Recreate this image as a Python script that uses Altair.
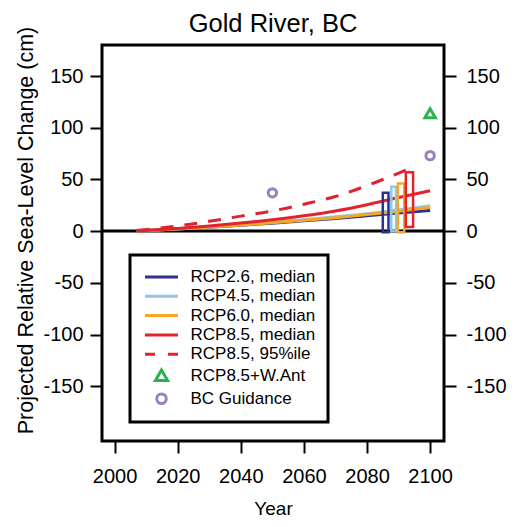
import altair as alt
import pandas as pd

# ---- data ----
years = [2007, 2020, 2030, 2040, 2050, 2060, 2070, 2080, 2090, 2100]
rcp26 = [0, 2.0, 3.8, 5.7, 7.7, 10.0, 12.3, 14.8, 17.4, 20.0]
rcp45 = [0, 2.1, 4.0, 6.2, 8.5, 11.0, 13.8, 16.8, 20.4, 24.5]
rcp60 = [0, 2.0, 3.9, 5.9, 8.0, 10.4, 13.0, 16.0, 19.3, 23.0]
rcp85 = [0, 2.6, 5.0, 7.8, 11.0, 14.8, 19.4, 25.5, 32.5, 39.0]
p95_years = [2007, 2020, 2030, 2040, 2050, 2060, 2070, 2080, 2090, 2094]
rcp85_p95 = [0.5, 5.0, 9.5, 14.5, 19.5, 26.0, 33.5, 44.0, 56.0, 61.0]

box_series = ["RCP2.6, median", "RCP4.5, median", "RCP6.0, median", "RCP8.5, median"]
box_start = [2085.0, 2087.7, 2089.8, 2092.3]
box_end = [2086.8, 2089.2, 2091.8, 2094.6]
box_low = [-1, 0, -1, 4]
box_high = [37, 43, 46, 57]

wais_year = [2100]
wais_value = [114]
bc_years = [2050, 2100]
bc_values = [37, 73]

legend_labels = ["RCP2.6, median", "RCP4.5, median", "RCP6.0, median",
                 "RCP8.5, median", "RCP8.5, 95%ile", "RCP8.5+W.Ant", "BC Guidance"]
legend_colors = ["#2e3192", "#8ec8e8", "#f5a623", "#e3222b", "#e3222b", "#2bb24c", "#9b80bf"]

y_ticks = [-150, -100, -50, 0, 50, 100, 150]
x_ticks = [2000, 2020, 2040, 2060, 2080, 2100]

# ---- tables ----
solid = pd.DataFrame({
    "year": years * 4,
    "value": rcp26 + rcp45 + rcp60 + rcp85,
    "series": sum([[s] * len(years) for s in box_series], []),
})
dashed = pd.DataFrame({"year": p95_years, "value": rcp85_p95, "series": "RCP8.5, 95%ile"})
boxes = pd.DataFrame({"series": box_series, "x1": box_start, "x2": box_end,
                      "lo": box_low, "hi": box_high})
wais = pd.DataFrame({"year": wais_year, "value": wais_value, "series": "RCP8.5+W.Ant"})
bc = pd.DataFrame({"year": bc_years, "value": bc_values, "series": "BC Guidance"})
zero = pd.DataFrame({"value": [0]})

FONT = "Liberation Sans"
xscale = alt.Scale(domain=[1996, 2104.4], nice=False, zero=False)
yscale = alt.Scale(domain=[-203, 180], nice=False, zero=False)
xaxis = alt.Axis(values=x_ticks, format="d", title="Year", labelPadding=13, titlePadding=13)
left_axis = alt.Axis(values=y_ticks, orient="left", title="Projected Relative Sea-Level Change (cm)",
                     titlePadding=5, titleY=185, titleFontSize=21.5,
                     labelExpr="'' + datum.value", labelPadding=7)
right_axis = alt.Axis(values=y_ticks, orient="right", title=None,
                      labelExpr="'' + datum.value", labelPadding=10)

LINE_PATH = "M-1.94,0H1.94"
TRI_PATH = "M0,-0.66L0.72,0.58L-0.72,0.58Z"
CIRC_PATH = "M0.56,0A0.56,0.56,0,1,1,-0.56,0A0.56,0.56,0,1,1,0.56,0Z"
sym_expr = ("datum.value === 'RCP8.5+W.Ant' ? '%s' : (datum.value === 'BC Guidance' ? '%s' : '%s')"
            % (TRI_PATH, CIRC_PATH, LINE_PATH))
dash_expr = "datum.value === 'RCP8.5, 95%ile' ? [10, 13] : []"

legend = alt.Legend(
    title=None, orient="none", legendX=28, legendY=210,
    strokeColor="black", padding=12,
    labelFont=FONT, labelFontSize=17, labelColor="black",
    symbolSize=289, symbolStrokeWidth=3,
    symbolType={"expr": sym_expr},
    symbolDash={"expr": dash_expr},
    symbolStrokeColor={"expr": "scale('color', datum.value)"},
    symbolFillColor="transparent",
    labelOffset=19, symbolOffset=9.5, rowPadding=1.3,
)
color = alt.Color("series:N", scale=alt.Scale(domain=legend_labels, range=legend_colors), legend=legend)

zero_line = alt.Chart(zero).mark_rule(color="black", strokeWidth=3).encode(
    y=alt.Y("value:Q", scale=yscale, axis=left_axis)
)

lines = alt.Chart(solid).mark_line(strokeWidth=3, interpolate="monotone").encode(
    x=alt.X("year:Q", scale=xscale, axis=xaxis),
    y=alt.Y("value:Q", scale=yscale, axis=right_axis),
    color=color,
    order=alt.Order("year:Q"),
)

dash_line = alt.Chart(dashed).mark_line(strokeWidth=3, strokeDash=[13, 11], interpolate="monotone").encode(
    x=alt.X("year:Q", scale=xscale, axis=xaxis),
    y=alt.Y("value:Q", scale=yscale, axis=None),
    color=color,
)

box_layer = alt.Chart(boxes).mark_rect(filled=False, strokeWidth=2.5).encode(
    x=alt.X("x1:Q", scale=xscale, axis=xaxis),
    x2="x2:Q",
    y=alt.Y("lo:Q", scale=yscale, axis=None),
    y2="hi:Q",
    color=color,
)

tri = alt.Chart(wais).mark_point(shape="triangle-up", filled=False, strokeWidth=3, size=110, opacity=1).encode(
    x=alt.X("year:Q", scale=xscale, axis=xaxis),
    y=alt.Y("value:Q", scale=yscale, axis=None),
    color=color,
)

circ = alt.Chart(bc).mark_point(shape="circle", filled=False, strokeWidth=3, size=70, opacity=1).encode(
    x=alt.X("year:Q", scale=xscale, axis=xaxis),
    y=alt.Y("value:Q", scale=yscale, axis=None),
    color=color,
)

chart = alt.layer(zero_line, lines, dash_line, box_layer, tri, circ).resolve_scale(
    y="shared", x="shared", color="shared"
).resolve_axis(y="independent").properties(
    width=342, height=396,
    autosize=alt.AutoSizeParams(type="none"),
    padding={"left": 94, "top": 37, "right": 63, "bottom": 78},
    title=alt.TitleParams("Gold River, BC", font=FONT, fontSize=25.5, fontWeight="normal",
                          color="black", offset=7, dy=18),
).configure_view(
    stroke="black", strokeWidth=3
).configure_axis(
    grid=False, domain=False, ticks=True, tickColor="black", tickWidth=2, tickSize=12,
    labelFont=FONT, labelFontSize=20, labelColor="black",
    titleFont=FONT, titleFontSize=19, titleFontWeight="normal", titleColor="black",
).configure_legend(strokeWidth=3)

chart.save("out.html", embed_options={"renderer": "svg", "actions": False})
